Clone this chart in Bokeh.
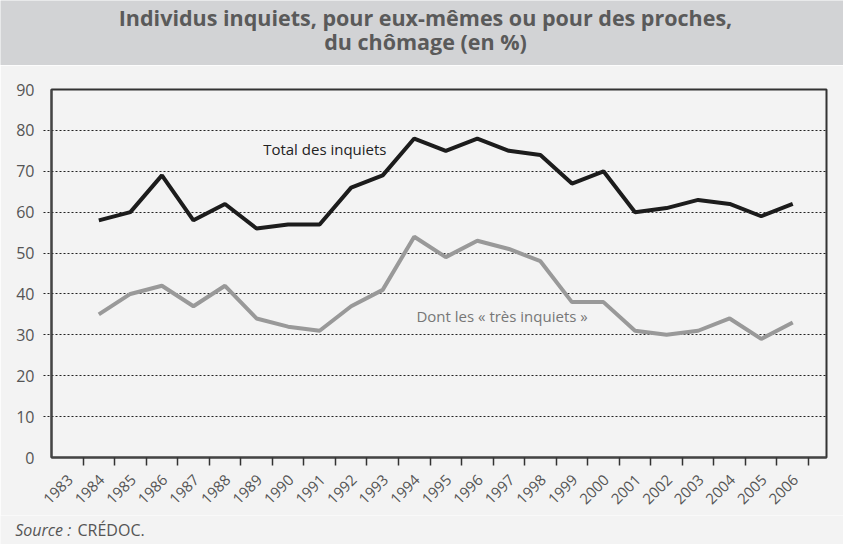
from math import pi
from bokeh.plotting import figure
from bokeh.models import Range1d, FixedTicker, Label
from bokeh.layouts import column
from bokeh.embed import file_html
from bokeh.resources import INLINE

# ---------------- data ----------------
years = [str(y) for y in range(1983, 2007)]          # category labels on x axis
data_years = [str(y) for y in range(1984, 2007)]     # years with observations
total_inquiets = [58, 60, 69, 58, 62, 56, 57, 57, 66, 69, 78, 75, 78, 75, 74, 67,
                  70, 60, 61, 63, 62, 59, 62]
tres_inquiets = [35, 40, 42, 37, 42, 34, 32, 31, 37, 41, 54, 49, 53, 51, 48, 38,
                 38, 31, 30, 31, 34, 29, 33]
y_ticks = [0, 10, 20, 30, 40, 50, 60, 70, 80, 90]
title_lines = ["Individus inquiets, pour eux-mêmes ou pour des proches,",
               "du chômage (en %)"]
series_labels = ["Total des inquiets", "Dont les « très inquiets »"]
source_italic = "Source :"
source_text = "CRÉDOC."

# ---------------- style ----------------
FONT = "Open Sans"
BAND = "#d2d3d5"
BG = "#f3f3f3"
TXT = "#555555"
W = 843


def blank(height, fill):
    f = figure(width=W, height=height, x_range=Range1d(0, W),
               y_range=Range1d(0, height), toolbar_location=None,
               output_backend="svg", min_border=0,
               x_axis_type=None, y_axis_type=None)
    f.frame_align = False
    f.grid.visible = False
    f.outline_line_color = None
    f.background_fill_color = fill
    f.border_fill_color = fill
    return f


# ---------------- title band ----------------
t = blank(65, BAND)
for i, line in enumerate(title_lines):
    t.add_layout(Label(x=425, y=48 - 24 * i, text=line, text_align="center",
                       text_baseline="middle", text_font=FONT,
                       text_font_style="bold", text_font_size="21.5px",
                       text_color="#5a5a5a"))

# ---------------- chart ----------------
n = len(years)
x_pos = [years.index(y) + 0.5 for y in data_years]
label_off = 0.1
label_ticks = [round(i + 0.5 + label_off, 3) for i in range(n)]
boundaries = list(range(1, n + 1))

p = figure(width=W, height=450, x_range=Range1d(0, 24.57), y_range=Range1d(0, 90),
           toolbar_location=None, output_backend="svg",
           min_border_left=51, min_border_right=17, min_border_top=24,
           min_border_bottom=58)
p.frame_align = False
p.background_fill_color = BG
p.border_fill_color = BG
p.outline_line_color = "#333333"
p.outline_line_width = 2

p.xgrid.visible = False
p.ygrid.ticker = FixedTicker(ticks=y_ticks[1:-1])
p.ygrid.grid_line_color = "#222222"
p.ygrid.grid_line_dash = "2 2"
p.ygrid.grid_line_width = 1

# y axis
p.yaxis.ticker = FixedTicker(ticks=y_ticks, minor_ticks=y_ticks[1:-1])
p.yaxis.major_tick_in = 0
p.yaxis.major_tick_out = 0
p.yaxis.minor_tick_in = 0
p.yaxis.minor_tick_out = 8
p.yaxis.minor_tick_line_dash = "2 2"
p.yaxis.minor_tick_line_color = "#222222"
p.yaxis.axis_line_color = "#444444"
p.yaxis.axis_line_width = 2
p.yaxis.major_label_text_font = FONT
p.yaxis.major_label_text_font_size = "16px"
p.yaxis.major_label_text_color = TXT
p.yaxis.major_label_standoff = 9

# x axis
p.xaxis.ticker = FixedTicker(ticks=label_ticks, minor_ticks=boundaries)
p.xaxis.major_label_overrides = {tk: yr for tk, yr in zip(label_ticks, years)}
p.xaxis.major_tick_in = 0
p.xaxis.major_tick_out = 0
p.xaxis.minor_tick_in = 0
p.xaxis.minor_tick_out = 8
p.xaxis.minor_tick_line_color = "#333333"
p.xaxis.minor_tick_line_width = 1.5
p.xaxis.axis_line_color = "#444444"
p.xaxis.axis_line_width = 2
p.xaxis.major_label_orientation = pi / 4
p.xaxis.major_label_text_font = FONT
p.xaxis.major_label_text_font_size = "15px"
p.xaxis.major_label_text_color = TXT
p.xaxis.major_label_standoff = 12

# series
p.line(x_pos, tres_inquiets, line_color="#999999", line_width=4)
p.line(x_pos, total_inquiets, line_color="#1c1c1c", line_width=4)

p.add_layout(Label(x=6.71, y=75.4, text=series_labels[0], text_font=FONT,
                   text_font_size="15px", text_color="#222222",
                   text_baseline="middle"))
p.add_layout(Label(x=11.57, y=34.6, text=series_labels[1], text_font=FONT,
                   text_font_size="15px", text_color="#777777",
                   text_baseline="middle"))

# ---------------- source ----------------
s = blank(29, BG)
s.add_layout(Label(x=14.7, y=14.3, text=source_italic, text_font=FONT,
                   text_font_style="italic", text_font_size="16px",
                   text_color=TXT, text_baseline="middle"))
s.add_layout(Label(x=77, y=14.3, text=source_text, text_font=FONT,
                   text_font_size="16px", text_color=TXT, text_baseline="middle"))

layout = column(t, p, s, spacing=0)
open("out.html", "w").write(file_html(layout, INLINE))
